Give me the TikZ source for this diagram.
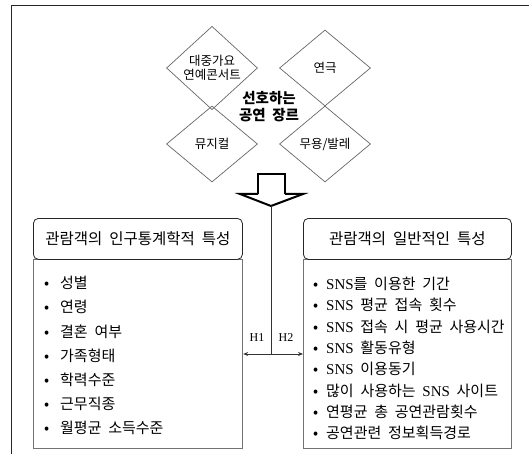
\documentclass[tikz,border=0pt]{standalone}
\usepackage{fontspec}
\setmainfont{Noto Sans CJK KR}[WordSpace=2]
\newfontfamily\lat{Liberation Serif}
\usetikzlibrary{shapes.geometric,arrows.meta}
\begin{document}
\begin{tikzpicture}[x=1pt,y=-1pt,
  genre/.style={diamond, draw=black!60, line width=0.7pt, minimum width=91pt, minimum height=76pt, inner sep=0pt, align=center, font=\fontsize{12.5}{14.5}\selectfont},
  headbox/.style={draw=black!85, line width=0.8pt, rounded corners=5pt, minimum height=41pt, inner sep=0pt, font=\fontsize{15.5}{17}\selectfont},
  bodybox/.style={draw=black!55, line width=1.2pt, inner sep=0pt, minimum height=189pt},
  item/.style={anchor=west, inner sep=0pt, font=\fontsize{15}{17}\selectfont},
  conn/.style={line width=0.8pt, draw=black!80},
  tip/.style={-{Stealth[length=5pt,width=4pt]}},
  hlabel/.style={font=\lat\fontsize{12}{14}\selectfont, inner sep=1pt}
]
\useasboundingbox (0,0) rectangle (529,454);
\draw[line width=0.9pt, black!85] (529,5) -- (11,5) -- (11,454);

% genres
\node[genre] (g1) at (212,68) {대중가요\\연예콘서트};
\node[genre] (g2) at (325,68) {연극};
\node[genre] (g3) at (212,144) {뮤지컬};
\node[genre] (g4) at (325,144) {무용/발레};
\node[font=\bfseries\fontsize{14.5}{17}\selectfont, align=center] (title) at (269,107) {선호하는\\공연 장르};

% block arrow
\draw[line width=1.3pt, line join=miter] (258,194) -- (258,174) -- (285,174) -- (285,194);
\draw[line width=2pt, line join=miter] (285,194) -- (303,194) -- (271,206) -- (240,194) -- (258,194);
\coordinate (arrowtip) at (271,206);

% boxes
\node[bodybox, anchor=north west, minimum width=209pt] (lb) at (33,259) {};
\node[headbox, anchor=north west, minimum width=209pt, fill=white] (lh) at (33,218) {관람객의 인구통계학적 특성};
\node[bodybox, anchor=north west, minimum width=208pt] (rb) at (303,259) {};
\node[headbox, anchor=north west, minimum width=208pt, fill=white] (rh) at (303,218) {관람객의 일반적인 특성};

% left items
\foreach [count=\i from 0] \t in {성별, 연령, 결혼 여부, 가족형태, 학력수준, 근무직종, 월평균 소득수준}
  \node[item] (li\i) at (44, {283+24.2*\i}) {\makebox[16pt][l]{•}\t};

% right items
\foreach [count=\i from 0] \t in {{{\lat SNS}를 이용한 기간}, {{\lat SNS} 평균 접속 횟수}, {{\lat SNS} 접속 시 평균 사용시간}, {{\lat SNS} 활동유형}, {{\lat SNS} 이용동기}, {많이 사용하는 {\lat SNS} 사이트}, {연평균 총 공연관람횟수}, {공연관련 정보획득경로}}
  \node[item] (ri\i) at (313, {284+21.3*\i}) {\makebox[13pt][l]{•}\t};

% connectors
\coordinate (split) at (271,354);
\draw[conn] (arrowtip) -- (split);
\draw[conn,tip] (split) -- (lb.east |- split);
\draw[conn,tip] (split) -- (rb.west |- split);
\node[hlabel] (h1) at (257,338) {H1};
\node[hlabel] (h2) at (286,338) {H2};
\end{tikzpicture}
\end{document}
